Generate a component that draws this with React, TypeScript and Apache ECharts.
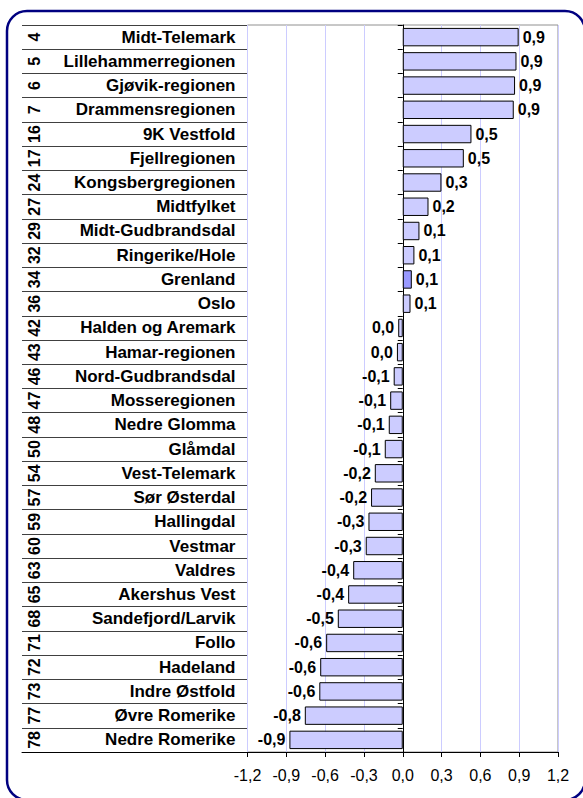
import React, { useEffect, useRef } from "react";
import * as echarts from "echarts";

const regions = [
  "Midt-Telemark", "Lillehammerregionen", "Gjøvik-regionen", "Drammensregionen",
  "9K Vestfold", "Fjellregionen", "Kongsbergregionen", "Midtfylket",
  "Midt-Gudbrandsdal", "Ringerike/Hole", "Grenland", "Oslo",
  "Halden og Aremark", "Hamar-regionen", "Nord-Gudbrandsdal", "Mosseregionen",
  "Nedre Glomma", "Glåmdal", "Vest-Telemark", "Sør Østerdal",
  "Hallingdal", "Vestmar", "Valdres", "Akershus Vest",
  "Sandefjord/Larvik", "Follo", "Hadeland", "Indre Østfold",
  "Øvre Romerike", "Nedre Romerike",
];

const ranks = [
  "4", "5", "6", "7", "16", "17", "24", "27", "29", "32", "34", "36", "42", "43", "46",
  "47", "48", "50", "54", "57", "59", "60", "63", "65", "68", "71", "72", "73", "77", "78",
];

const values = [
  0.896, 0.879, 0.868, 0.858, 0.531, 0.472, 0.299, 0.199, 0.129, 0.09, 0.07, 0.06,
  -0.035, -0.045, -0.07, -0.097, -0.108, -0.139, -0.216, -0.245, -0.265, -0.286,
  -0.383, -0.422, -0.502, -0.592, -0.638, -0.645, -0.757, -0.876,
];

const highlighted = ["Grenland"];

const axisTicks = { min: -1.2, max: 1.2, interval: 0.3 };

const FONT = "'Liberation Sans', Arial, Helvetica, sans-serif";

function fmt(v: number): string {
  const r = Math.round(v * 10) / 10;
  return r.toFixed(1).replace(".", ",");
}

export default function App() {
  const ref = useRef<HTMLDivElement>(null);

  useEffect(() => {
    if (!ref.current) return;
    const chart = echarts.init(ref.current, null, { renderer: "svg" });

    const barData = values.map((v, i) => ({
      value: v,
      itemStyle: {
        color: highlighted.includes(regions[i]) ? "#9999ff" : "#ccccff",
      },
      label: { position: v >= 0 ? "right" : "left" },
    }));

    const option: any = {
      animation: false,
      backgroundColor: "#ffffff",
      textStyle: { fontFamily: FONT },
      graphic: [
        {
          type: "rect",
          shape: { x: 7, y: 11, width: 578, height: 789, r: 20 },
          style: { fill: "none", stroke: "#000080", lineWidth: 2.5 },
          silent: true,
          z: 100,
        },
      ],
      grid: [
        {
          left: 247.5,
          right: 25,
          top: 25,
          bottom: 46,
          show: true,
          borderColor: "#909090",
          borderWidth: 1,
          backgroundColor: "transparent",
        },
        {
          left: 22,
          width: 225.5,
          top: 25,
          bottom: 46,
        },
      ],
      xAxis: [
        {
          gridIndex: 0,
          type: "value",
          min: axisTicks.min,
          max: axisTicks.max,
          interval: axisTicks.interval,
          position: "bottom",
          axisLine: { show: true, onZero: false, lineStyle: { color: "#000", width: 1 } },
          axisTick: { show: true, length: 5, lineStyle: { color: "#000" } },
          splitLine: { show: true, lineStyle: { color: "#ccccff", width: 1 } },
          axisLabel: {
            fontSize: 16,
            color: "#000",
            fontFamily: FONT,
            margin: 15,
            formatter: (v: number) => fmt(v),
          },
        },
        {
          gridIndex: 1,
          type: "value",
          min: 0,
          max: 1,
          show: true,
          axisLine: { show: true, onZero: false, lineStyle: { color: "#000", width: 1 } },
          axisTick: { show: false },
          axisLabel: { show: false },
          splitLine: { show: false },
        },
      ],
      yAxis: [
        {
          gridIndex: 0,
          type: "category",
          data: regions,
          inverse: true,
          axisLine: { show: true, onZero: true, lineStyle: { color: "#000", width: 1 } },
          axisTick: { show: true, length: 5, lineStyle: { color: "#000" } },
          axisLabel: { show: false },
          splitLine: { show: false },
        },
        {
          gridIndex: 1,
          type: "category",
          data: regions,
          inverse: true,
          position: "right",
          axisLine: { show: false },
          axisTick: { show: false },
          splitLine: { show: true, lineStyle: { color: "#404040", width: 1 } },
          axisLabel: {
            inside: true,
            margin: 12,
            fontSize: 17,
            fontWeight: "bold",
            color: "#000",
            fontFamily: FONT,
          },
        },
        {
          gridIndex: 1,
          type: "category",
          data: ranks,
          inverse: true,
          position: "left",
          axisLine: { show: false },
          axisTick: { show: false },
          splitLine: { show: false },
          axisLabel: {
            inside: true,
            rotate: 90,
            margin: 4,
            fontSize: 16,
            fontWeight: "bold",
            color: "#000",
            fontFamily: FONT,
          },
        },
      ],
      series: [
        {
          type: "bar",
          xAxisIndex: 0,
          yAxisIndex: 0,
          data: barData,
          barCategoryGap: "24%",
          itemStyle: { borderColor: "#000", borderWidth: 1 },
          label: {
            show: true,
            distance: 4,
            fontSize: 16,
            fontWeight: "bold",
            color: "#000",
            fontFamily: FONT,
            formatter: (p: any) => fmt(p.value),
          },
        },
      ],
    };

    chart.setOption(option);
    return () => chart.dispose();
  }, []);

  return (
    <div
      ref={ref}
      style={{ position: "fixed", left: 0, top: 0, width: 583, height: 798 }}
    />
  );
}
